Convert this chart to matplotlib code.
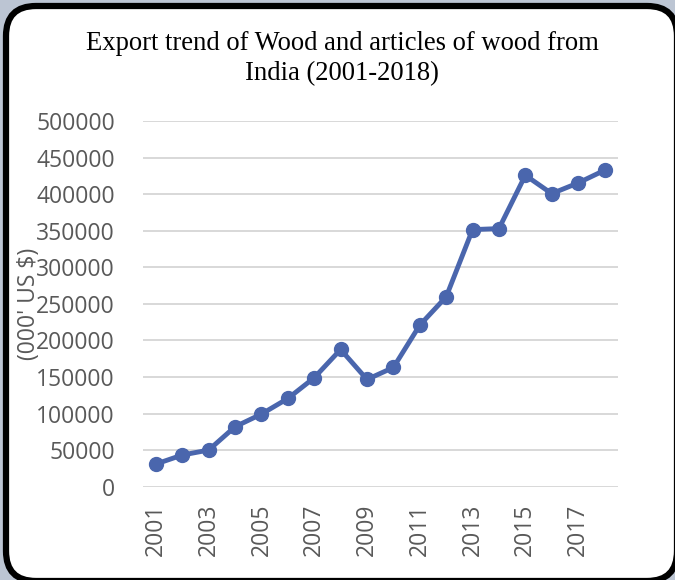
import matplotlib
matplotlib.use("Agg")
import matplotlib.pyplot as plt
from matplotlib.patches import FancyBboxPatch

years = [str(y) for y in range(2001, 2019)]
exports = [31000, 43300, 50100, 82000, 99300, 120600, 149000, 187600, 146600,
           163000, 220900, 259600, 351500, 352900, 425800, 400700, 415300, 432600]
yticks = list(range(0, 500001, 50000))

W, H = 675, 580
fig = plt.figure(figsize=(W / 100, H / 100), dpi=100)
fig.patch.set_facecolor("#bcc5d3")

# rounded white panel with black border
panel = FancyBboxPatch((6 / W, -1 / H), (677 - 6) / W, (581 - 6) / H,
                       boxstyle="round,pad=0,rounding_size=%f" % (30 / W),
                       transform=fig.transFigure, facecolor="white",
                       edgecolor="black", linewidth=4.5, zorder=0,
                       mutation_aspect=W / H)
fig.patches.append(panel)

ax = fig.add_axes([142.7 / W, 1 - 486.7 / H, 475 / W, (486.7 - 121) / H])
ax.set_zorder(2)
ax.set_facecolor("none")
x = list(range(len(years)))
ax.plot(x, exports, color="#4a66ad", linewidth=3.5, marker="o",
        markersize=10, solid_capstyle="round", zorder=3)
ax.set_xlim(-0.5, len(years) - 0.5)
ax.set_ylim(0, 500000)
ax.set_yticks(yticks)
ax.set_yticklabels([str(v) for v in yticks])
ax.set_xticks(x[::2])
ax.set_xticklabels(years[::2], rotation=90)
for s in ax.spines.values():
    s.set_visible(False)
ax.grid(axis="y", color="#d6d6d6", linewidth=1.3)
ax.set_axisbelow(True)
ax.tick_params(axis="both", length=0, colors="#595959", labelsize=16.5)
ax.tick_params(axis="y", pad=20)
ax.tick_params(axis="x", pad=12)
for lab in ax.get_xticklabels() + ax.get_yticklabels():
    lab.set_fontfamily("Open Sans")

fig.text(29 / W, 1 - 304 / H, "(000' US $)", rotation=90, ha="center",
         va="center", fontsize=16.5, color="#595959", family="Open Sans", zorder=3)

fig.text(342 / W, 1 - 44 / H, "Export trend of Wood and articles of wood from",
         ha="center", va="center", fontsize=19.2, family="Liberation Serif",
         color="black", zorder=3)
fig.text(342 / W, 1 - 74 / H, "India (2001-2018)",
         ha="center", va="center", fontsize=19.2, family="Liberation Serif",
         color="black", zorder=3)

fig.savefig("out.png", dpi=100)
